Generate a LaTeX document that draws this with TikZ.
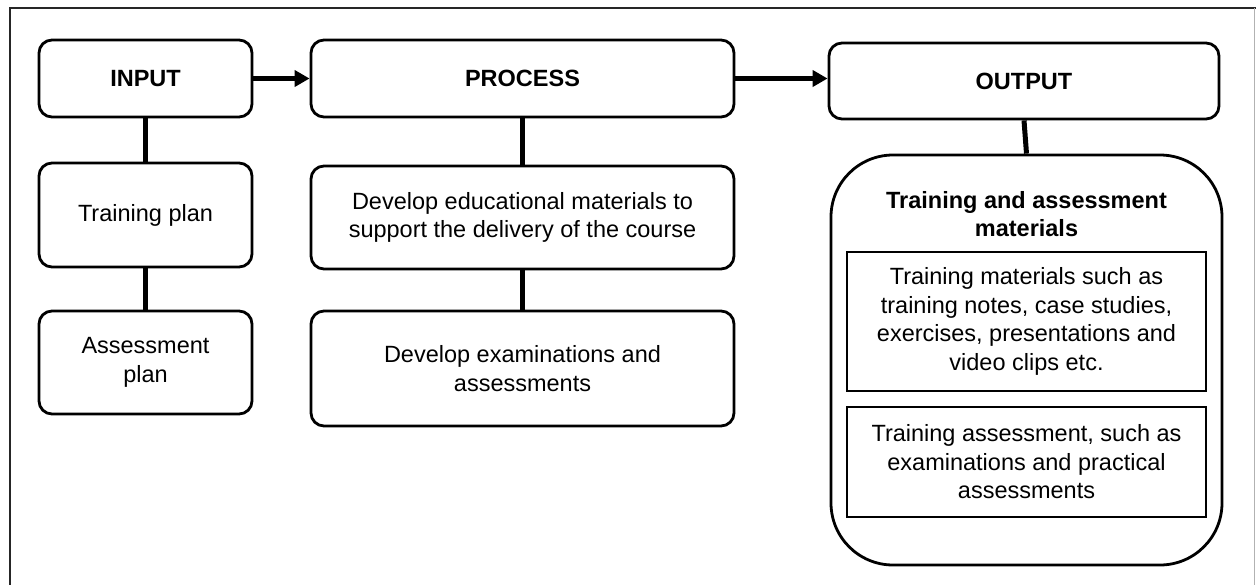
\documentclass[tikz,border=0pt]{standalone}
\usepackage{fontspec}
\setmainfont{Liberation Sans}
\usetikzlibrary{arrows.meta}
\begin{document}
\begin{tikzpicture}[x=1pt,y=-1pt,
  txt/.style={font=\fontsize{23.5pt}{28.5pt}\selectfont, align=center, inner sep=0pt},
  rbox/.style={txt, draw, line width=2.8pt, rounded corners=13pt},
  ibox/.style={txt, draw, line width=2.2pt},
  conn/.style={line width=5pt},
  arr/.style={line width=5pt, -{Triangle[length=15pt,width=16pt]}},
  frameline/.style={line width=2pt, black!85}]
\useasboundingbox (0,0) rectangle (1256,584);
% outer frame
\draw[frameline] (10,600) -- (10,8) -- (1256,8);
\draw[line width=1.5pt, black!30] (1254.5,8) -- (1254.5,600);
% input column
\node[rbox, minimum width=213pt, minimum height=77pt] (input) at (145.5,78.5) {\bfseries INPUT};
\node[rbox, minimum width=213pt, minimum height=104pt] (tplan) at (145.5,215) {Training plan};
\node[rbox, minimum width=213pt, minimum height=103pt] (aplan) at (145.5,362.5) {Assessment\\plan};
% process column
\node[rbox, minimum width=423pt, minimum height=77pt] (process) at (522.5,78.5) {\bfseries PROCESS};
\node[rbox, minimum width=423pt, minimum height=103pt] (edu) at (522.5,217.5) {Develop educational materials to\\support the delivery of the course};
\node[rbox, minimum width=423pt, minimum height=115pt] (exam) at (522.5,368.5) {Develop examinations and\\assessments};
% output column
\node[rbox, minimum width=390pt, minimum height=76pt] (output) at (1024,81) {\bfseries OUTPUT};
\node[draw, line width=2.8pt, rounded corners=62pt, minimum width=391pt, minimum height=410pt, inner sep=0pt] (big) at (1026.5,360) {};
\node[txt, font=\fontsize{23.5pt}{28pt}\selectfont\bfseries] (title) at (1026.5,214) {Training and assessment\\materials};
\node[ibox, minimum width=359pt, minimum height=139pt] (mat) at (1026.5,321.5) {Training materials such as\\training notes, case studies,\\exercises, presentations and\\video clips etc.};
\node[ibox, minimum width=359pt, minimum height=110pt] (ass) at (1026.5,462) {Training assessment, such as\\examinations and practical\\assessments};
% connectors
\draw[arr] (input.east) -- (process.west);
\draw[arr] (process.east) -- (process.east -| output.west);
\draw[conn] (input.south) -- (tplan.north);
\draw[conn] (tplan.south) -- (aplan.north);
\draw[conn] (process.south) -- (edu.north);
\draw[conn] (edu.south) -- (exam.north);
\draw[conn] (output.south) -- (big.north);
\end{tikzpicture}
\end{document}
